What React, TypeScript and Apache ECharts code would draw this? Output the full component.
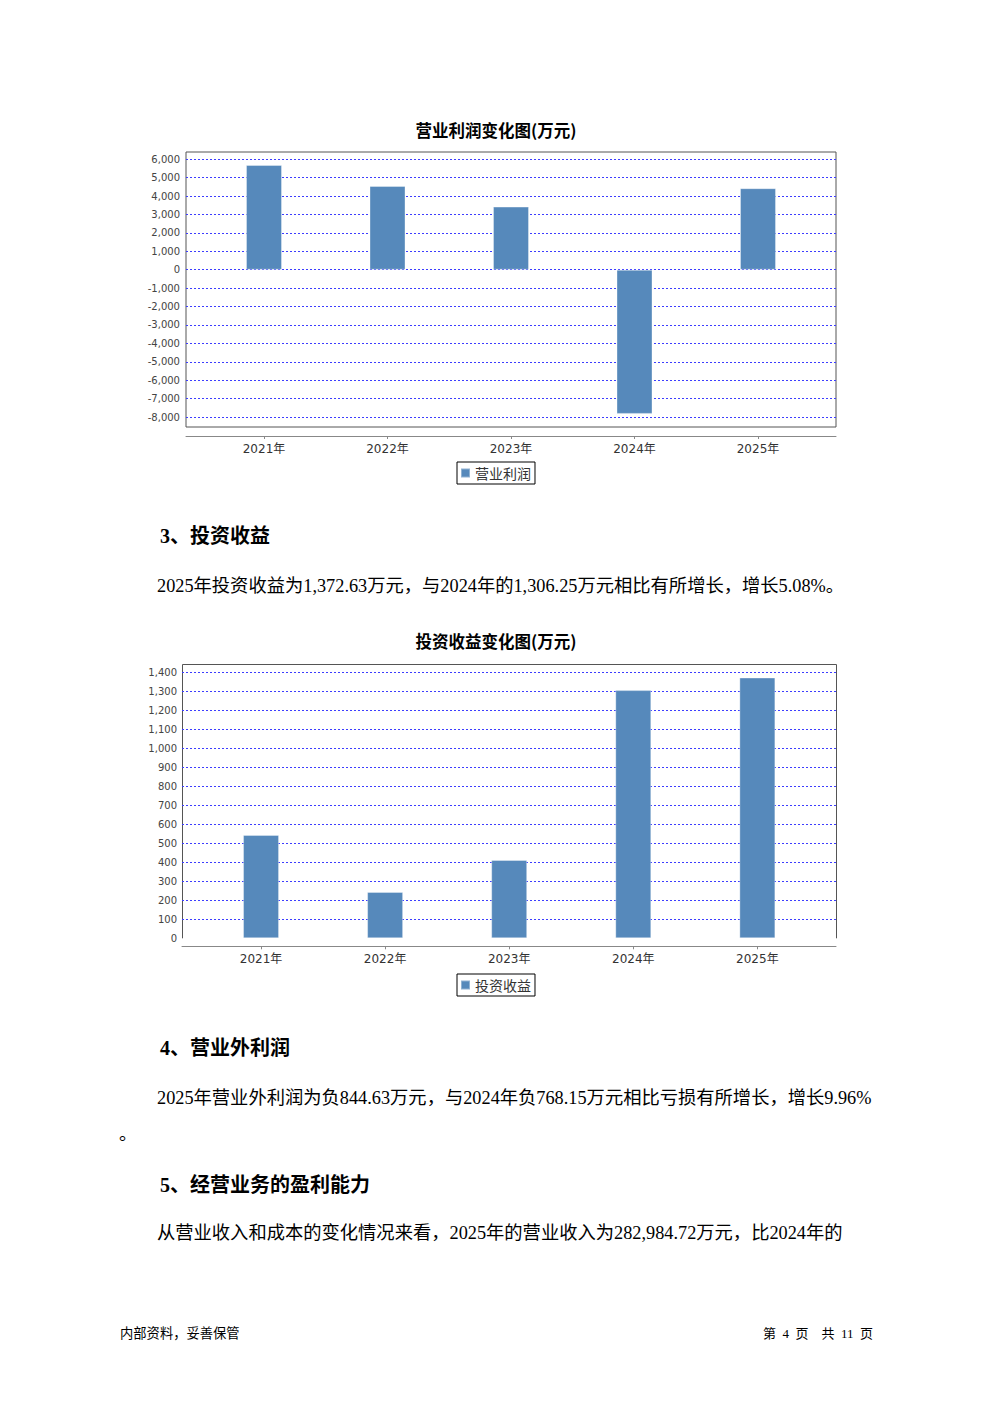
import React, { useEffect, useRef } from 'react';
import * as echarts from 'echarts';

// ---- data ----
const years = ['2021年', '2022年', '2023年', '2024年', '2025年'];
const operatingProfit = [5690, 4550, 3430, -7830, 4430];
const investmentIncome = [544, 244, 412, 1306.25, 1372.63];

const profitSeriesName = '营业利润';
const investSeriesName = '投资收益';
const profitTitle = '营业利润变化图(万元)';
const investTitle = '投资收益变化图(万元)';

// axis ranges (tick step 1000 / 100)
const profitAxisMin = -8543;
const profitAxisMax = 6396;
const profitTickStep = 1000;
const investAxisMin = 0;
const investAxisMax = 1443.7;
const investTickStep = 100;

// page text
const heading3 = '3、投资收益';
const para3 = '2025年投资收益为1,372.63万元，与2024年的1,306.25万元相比有所增长，增长5.08%。';
const heading4 = '4、营业外利润';
const para4 = '2025年营业外利润为负844.63万元，与2024年负768.15万元相比亏损有所增长，增长9.96%';
const para4tail = '。';
const heading5 = '5、经营业务的盈利能力';
const para5 = '从营业收入和成本的变化情况来看，2025年的营业收入为282,984.72万元，比2024年的';
const footerLeft = '内部资料，妥善保管';
const footerRight = '第  4  页    共  11  页';

// ---- styles ----
const BAR_COLOR = '#5689bb';
const FRAME_COLOR = '#555555';
const AXIS_COLOR = '#888888';
const GRID_LINE = { color: '#3d3dff', type: [2, 2] as any, width: 1 };
const Y_LABEL = { fontFamily: 'DejaVu Sans', fontSize: 10, color: '#444' };
const X_LABEL = { fontFamily: 'DejaVu Sans, Noto Sans CJK SC', fontSize: 12, color: '#333' };
const CJK = '"Noto Sans CJK SC"';
const BODY_FONT = '"Liberation Serif", "Noto Sans CJK SC"';

const fmt = (v: number) => Math.round(v).toLocaleString('en-US');

function legend(name: string, top: number) {
  return {
    data: [name],
    left: 457,
    top,
    orient: 'horizontal',
    padding: [3, 4, 3, 3],
    borderColor: '#000',
    borderWidth: 1,
    itemWidth: 9,
    itemHeight: 9,
    icon: 'rect',
    selectedMode: false,
    textStyle: { fontFamily: CJK, fontSize: 14, color: '#333', lineHeight: 16 },
  };
}

function txt(text: string, x: number, y: number, font: string, opts: any = {}) {
  return {
    type: 'text',
    x,
    y,
    silent: true,
    style: {
      text,
      font,
      fill: opts.fill || '#000',
      textAlign: opts.align || 'left',
      textVerticalAlign: 'middle',
    },
  };
}

export default function App() {
  const ref = useRef<HTMLDivElement>(null);

  useEffect(() => {
    if (!ref.current) return;
    const chart = echarts.init(ref.current, undefined, { renderer: 'svg' });

    const option: any = {
      animation: false,
      backgroundColor: '#ffffff',
      grid: [
        { left: 186, top: 152, width: 650, height: 275, show: true, borderColor: FRAME_COLOR, borderWidth: 1, backgroundColor: 'transparent' },
        { left: 202.25, top: 152, width: 617.5, height: 275 },
        { left: 182, top: 664, width: 654, height: 274.3 },
        { left: 199, top: 664, width: 620.4, height: 274.3 },
      ],
      xAxis: [
        {
          gridIndex: 0, type: 'value', min: 0, max: 1, offset: 9,
          axisLine: { show: true, onZero: false, lineStyle: { color: AXIS_COLOR, width: 1 } },
          axisTick: { show: false }, axisLabel: { show: false }, splitLine: { show: false },
        },
        {
          gridIndex: 1, type: 'category', data: years, offset: 9,
          axisLine: { show: false, onZero: false },
          axisTick: { show: true, alignWithLabel: true, length: 3, lineStyle: { color: AXIS_COLOR } },
          axisLabel: { ...X_LABEL, margin: 7 },
        },
        {
          gridIndex: 2, type: 'value', min: 0, max: 1, offset: 8,
          axisLine: { show: true, onZero: false, lineStyle: { color: AXIS_COLOR, width: 1 } },
          axisTick: { show: false }, axisLabel: { show: false }, splitLine: { show: false },
        },
        {
          gridIndex: 3, type: 'category', data: years, offset: 8,
          axisLine: { show: false, onZero: false },
          axisTick: { show: true, alignWithLabel: true, length: 3, lineStyle: { color: AXIS_COLOR } },
          axisLabel: { ...X_LABEL, margin: 7 },
        },
      ],
      yAxis: [
        {
          gridIndex: 0, type: 'value', min: profitAxisMin, max: profitAxisMax,
          splitNumber: 14, minInterval: profitTickStep, maxInterval: profitTickStep,
          axisLine: { show: false }, axisTick: { show: false },
          axisLabel: { ...Y_LABEL, margin: 6, showMinLabel: false, showMaxLabel: false, formatter: fmt },
          splitLine: { show: true, showMinLine: false, showMaxLine: false, lineStyle: GRID_LINE },
        },
        { gridIndex: 1, type: 'value', min: profitAxisMin, max: profitAxisMax, show: false, splitLine: { show: false } },
        {
          gridIndex: 2, type: 'value', min: investAxisMin, max: investAxisMax,
          splitNumber: 14, minInterval: investTickStep, maxInterval: investTickStep,
          axisLine: { show: false }, axisTick: { show: false },
          axisLabel: { ...Y_LABEL, margin: 5, showMinLabel: true, showMaxLabel: false, formatter: fmt },
          splitLine: { show: true, showMinLine: false, showMaxLine: false, lineStyle: GRID_LINE },
        },
        { gridIndex: 3, type: 'value', min: investAxisMin, max: investAxisMax, show: false, splitLine: { show: false } },
      ],
      legend: [legend(profitSeriesName, 462), legend(investSeriesName, 974)],
      series: [
        {
          type: 'bar', name: profitSeriesName, xAxisIndex: 1, yAxisIndex: 1,
          data: operatingProfit, barWidth: 36,
          itemStyle: { color: BAR_COLOR, borderColor: 'rgba(255,255,255,0.35)', borderWidth: 1 },
        },
        {
          type: 'bar', name: investSeriesName, xAxisIndex: 3, yAxisIndex: 3,
          data: investmentIncome, barWidth: 36,
          itemStyle: { color: BAR_COLOR, borderColor: 'rgba(255,255,255,0.35)', borderWidth: 1 },
        },
      ],
      graphic: [
        {
          type: 'polyline', silent: true,
          shape: { points: [[182.5, 938.3], [182.5, 664.5], [836.5, 664.5], [836.5, 938.3]] },
          style: { stroke: FRAME_COLOR, fill: null, lineWidth: 1 },
        },
        txt(profitTitle, 496, 130, `bold 16.5px ${CJK}`, { align: 'center' }),
        txt(investTitle, 496, 641, `bold 16.5px ${CJK}`, { align: 'center' }),
        txt(heading3, 160, 536, `bold 20px ${BODY_FONT}`),
        txt(para3, 157, 586, `18.3px ${BODY_FONT}`),
        txt(heading4, 160, 1048, `bold 20px ${BODY_FONT}`),
        txt(para4, 157, 1098, `18.3px ${BODY_FONT}`),
        txt(para4tail, 119, 1134, `18px ${BODY_FONT}`),
        txt(heading5, 160, 1185, `bold 20px ${BODY_FONT}`),
        txt(para5, 157, 1233, `18.3px ${BODY_FONT}`),
        txt(footerLeft, 120, 1333, `13.3px ${BODY_FONT}`),
        txt(footerRight, 873, 1333, `13px ${BODY_FONT}`, { align: 'right' }),
      ],
    };

    chart.setOption(option);
    return () => chart.dispose();
  }, []);

  return (
    <div
      ref={ref}
      style={{ position: 'absolute', left: 0, top: 0, width: 992, height: 1403 }}
    />
  );
}
